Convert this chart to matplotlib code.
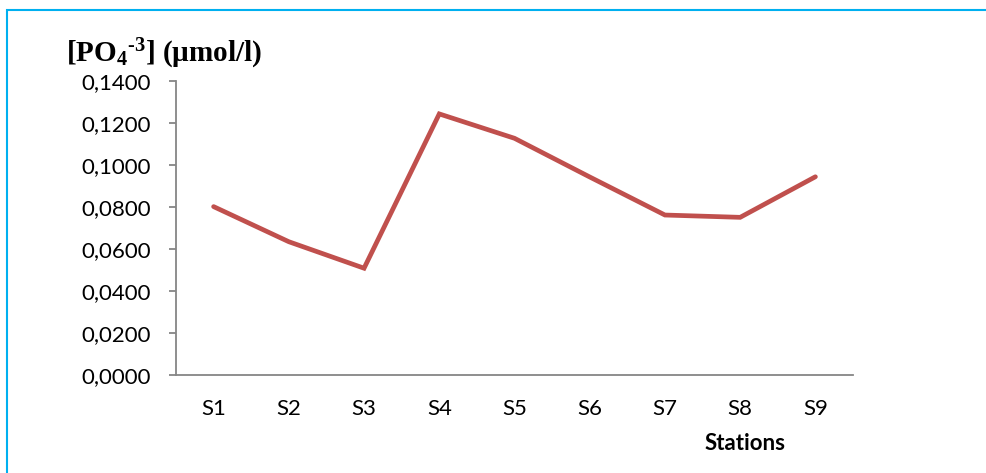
import matplotlib
matplotlib.use("Agg")
import matplotlib.pyplot as plt
from matplotlib.patches import Rectangle

stations = ["S1", "S2", "S3", "S4", "S5", "S6", "S7", "S8", "S9"]
po4 = [0.0801, 0.0634, 0.0508, 0.1242, 0.1126, 0.0942, 0.0761, 0.0750, 0.0943]
yticks = [0.0, 0.02, 0.04, 0.06, 0.08, 0.10, 0.12, 0.14]

plt.rcParams['mathtext.fontset'] = 'custom'
plt.rcParams['mathtext.rm'] = 'Liberation Serif:bold'
plt.rcParams['mathtext.it'] = 'Liberation Serif:bold'
plt.rcParams['mathtext.bf'] = 'Liberation Serif:bold'

W, H = 987, 473
fig = plt.figure(figsize=(W / 100, H / 100), dpi=100)
ax = fig.add_axes([176 / W, 1 - 375 / H, (853 - 176) / W, (375 - 80.7) / H])

x = list(range(len(stations)))
ax.plot(x, po4, color="#C0504D", lw=3.4, solid_capstyle="round", solid_joinstyle="miter")

ax.set_xlim(-0.5, len(stations) - 0.5)
ax.set_ylim(0, 0.14)
ax.set_yticks(yticks)
ax.set_yticklabels([("%.4f" % v).replace(".", ",") for v in yticks])
ax.set_xticks(x)
ax.set_xticklabels(stations)

for s in ["top", "right"]:
    ax.spines[s].set_visible(False)
for s in ["left", "bottom"]:
    ax.spines[s].set_color("#868686")
    ax.spines[s].set_linewidth(1.3)

ax.tick_params(axis="y", length=5, width=1.3, color="#868686", pad=13,
               labelsize=16, labelcolor="black")
ax.tick_params(axis="x", length=0, pad=17, labelsize=16, labelcolor="black")
for lab in ax.get_xticklabels() + ax.get_yticklabels():
    lab.set_fontfamily("Lato")

fig.text(66 / W, 1 - 62 / H, r"[PO$_4$$^{\text{-}3}$] (µmol/l)", fontfamily="Liberation Serif",
         fontweight="bold", fontsize=21, ha="left", va="baseline")
fig.text(745 / W, 1 - 443 / H, "Stations", fontfamily="Lato", fontweight="bold",
         fontsize=16, ha="center", va="center")

fig.patches.append(Rectangle((7 / W, -0.1), 1.2, 1 - 10 / H + 0.1, transform=fig.transFigure,
                             fill=False, edgecolor="#00B0F0", lw=1.5, zorder=10))

fig.savefig("out.png", dpi=100)
